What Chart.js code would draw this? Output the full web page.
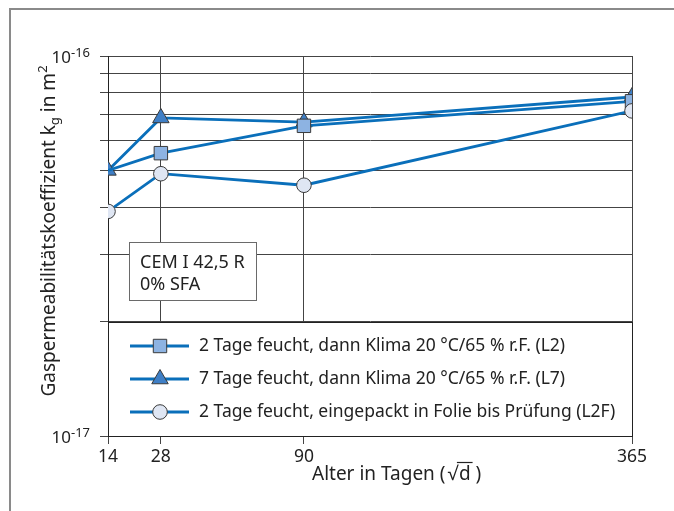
<!DOCTYPE html>
<html>
<head>
<meta charset="utf-8">
<script src="https://cdn.jsdelivr.net/npm/chart.js@4.4.1/dist/chart.umd.min.js"></script>
<style>
  html, body { margin: 0; padding: 0; background: #fff; }
  #wrap { width: 674px; height: 511px; }
</style>
</head>
<body>
<div id="wrap"><canvas id="chart" width="674" height="511"></canvas></div>
<script>
// Data (age in days, kg in m^2)
const days = [14, 28, 90, 365];
const seriesNames = [
  '2 Tage feucht, dann Klima 20 °C/65 % r.F. (L2)',
  '7 Tage feucht, dann Klima 20 °C/65 % r.F. (L7)',
  '2 Tage feucht, eingepackt in Folie bis Prüfung (L2F)'
];
const kgL2  = [5.0e-17, 5.55e-17, 6.55e-17, 7.6e-17];
const kgL7  = [5.0e-17, 6.87e-17, 6.7e-17, 7.8e-17];
const kgL2F = [3.9e-17, 4.9e-17, 4.57e-17, 7.17e-17];

// y grid (log scale) and labelled ticks
const yGridValues = [1e-17, 2e-17, 3e-17, 4e-17, 5e-17, 6e-17, 7e-17, 8e-17, 9e-17, 1e-16];
const yLabelValues = [1e-16, 1e-17];
const yLabelExps = ['-16', '-17'];

const infoLines = ['CEM I 42,5 R', '0% SFA'];
const yTitleParts = [['Gaspermeabilitätskoeffizient k', 0], ['g', -1], [' in m', 0], ['2', 1]];
const xTitle = 'Alter in Tagen (';

const FONT = '"Noto Sans", "Open Sans", sans-serif';
const LINE = '#0a6fba';
const EDGE = '#3a3a3a';

const xyOf = vals => days.map((d, i) => ({ x: Math.sqrt(d), y: vals[i] }));

// white boxes (legend panel, info box) drawn over the grid
const boxPlugin = {
  id: 'boxes',
  beforeDatasetsDraw(chart) {
    const { ctx, chartArea: a, scales: { y } } = chart;
    ctx.save();
    // legend panel sits between 1e-17 and 2e-17
    const top = Math.round(y.getPixelForValue(yGridValues[1])) + 0.5;
    const bot = Math.round(a.bottom) + 0.5;
    ctx.fillStyle = '#fff';
    ctx.fillRect(a.left, top, a.right - a.left, bot - top);
    ctx.strokeStyle = '#222';
    ctx.lineWidth = 1;
    ctx.strokeRect(Math.round(a.left) + 0.5, top, Math.round(a.right - a.left), bot - top);

    // info box
    ctx.fillStyle = '#fff';
    ctx.fillRect(129, 242, 128, 59);
    ctx.strokeStyle = '#6a6a6a';
    ctx.strokeRect(129.5, 242.5, 127, 58);
    ctx.fillStyle = '#222';
    ctx.font = '18px ' + FONT;
    ctx.textBaseline = 'alphabetic';
    ctx.fillText(infoLines[0], 140, 268);
    ctx.fillText(infoLines[1], 140, 290);

    // legend entries
    const rows = [346, 379, 412];
    chart.data.datasets.forEach((ds, i) => {
      const ry = rows[i];
      ctx.strokeStyle = LINE;
      ctx.lineWidth = 2.8;
      ctx.beginPath();
      ctx.moveTo(130, ry);
      ctx.lineTo(189, ry);
      ctx.stroke();
      drawMarker(ctx, ds.pointStyle, 160, ry, 9.5, ds.pointBackgroundColor);
      ctx.fillStyle = '#222';
      ctx.font = '17.5px ' + FONT;
      ctx.textBaseline = 'middle';
      ctx.fillText(ds.label, 199, ry);
    });
    ctx.restore();
  },
  afterDraw(chart) {
    const { ctx, scales: { x, y } } = chart;
    ctx.save();
    // outer frame (left + top only)
    ctx.strokeStyle = '#8a8a8a';
    ctx.lineWidth = 2;
    ctx.beginPath();
    ctx.moveTo(10, 511);
    ctx.lineTo(10, 9);
    ctx.lineTo(674, 9);
    ctx.stroke();

    ctx.fillStyle = '#222';
    ctx.textBaseline = 'alphabetic';
    // y labels 10^-16 / 10^-17
    yLabelValues.forEach((v, i) => {
      const py = y.getPixelForValue(v);
      ctx.font = '13px ' + FONT;
      const ws = ctx.measureText(yLabelExps[i]).width;
      ctx.textAlign = 'right';
      ctx.fillText(yLabelExps[i], 90, py + 1);
      ctx.font = '17px ' + FONT;
      ctx.fillText('10', 90 - ws, py + 6.5);
    });

    // y title, rotated
    ctx.translate(55, 0);
    ctx.rotate(-Math.PI / 2);
    ctx.textAlign = 'left';
    const size = s => (s === 0 ? 19 : 13);
    let total = 0;
    yTitleParts.forEach(([t, s]) => { ctx.font = size(s) + 'px ' + FONT; total += ctx.measureText(t).width; });
    let tx = -231 - total / 2;
    yTitleParts.forEach(([t, s]) => {
      ctx.font = size(s) + 'px ' + FONT;
      ctx.fillText(t, tx, s === 0 ? 0 : (s < 0 ? 4 : -8));
      tx += ctx.measureText(t).width;
    });
    ctx.setTransform(1, 0, 0, 1, 0, 0);

    // x title with root sign
    ctx.font = '19px ' + FONT;
    ctx.textAlign = 'left';
    let xx = 312;
    const by = 480;
    ctx.fillText(xTitle, xx, by);
    xx += ctx.measureText(xTitle).width + 2;
    ctx.fillText('√', xx, by);
    xx += ctx.measureText('√').width;
    const wd = ctx.measureText('d').width;
    ctx.fillText('d', xx + 1, by);
    ctx.strokeStyle = '#222';
    ctx.lineWidth = 1.2;
    ctx.beginPath();
    ctx.moveTo(xx - 1, by - 17.5);
    ctx.lineTo(xx + wd + 3, by - 17.5);
    ctx.stroke();
    ctx.fillText(' )', xx + wd + 1, by);
    ctx.restore();
  }
};

function drawMarker(ctx, style, x, y, r, fill) {
  ctx.save();
  ctx.fillStyle = fill;
  ctx.strokeStyle = EDGE;
  ctx.lineWidth = 1;
  ctx.beginPath();
  if (style === 'rect') {
    const s = Math.SQRT1_2 * r;
    ctx.rect(x - s, y - s, 2 * s, 2 * s);
  } else if (style === 'triangle') {
    ctx.moveTo(x, y - r);
    ctx.lineTo(x + r * 0.866, y + r / 2);
    ctx.lineTo(x - r * 0.866, y + r / 2);
    ctx.closePath();
  } else {
    ctx.arc(x, y, 7.3, 0, Math.PI * 2);
  }
  ctx.fill();
  ctx.stroke();
  ctx.restore();
}

const gridOpts = { color: '#444', lineWidth: 1, tickLength: 8, tickColor: '#444', drawTicks: true };

new Chart(document.getElementById('chart'), {
  type: 'line',
  data: {
    datasets: [
      {
        label: seriesNames[0], data: xyOf(kgL2), order: 2,
        borderColor: LINE, borderWidth: 2.8,
        pointStyle: 'rect', pointRadius: [0, 9.5, 9.5, 9.5],
        pointBackgroundColor: '#8db3e2', pointBorderColor: EDGE, pointBorderWidth: 1
      },
      {
        label: seriesNames[1], data: xyOf(kgL7), order: 3,
        borderColor: LINE, borderWidth: 2.8,
        pointStyle: 'triangle', pointRadius: 9.5,
        pointBackgroundColor: '#3f7fc6', pointBorderColor: EDGE, pointBorderWidth: 1
      },
      {
        label: seriesNames[2], data: xyOf(kgL2F), order: 1,
        borderColor: LINE, borderWidth: 2.8,
        pointStyle: 'circle', pointRadius: 7.3,
        pointBackgroundColor: '#dfe6f3', pointBorderColor: EDGE, pointBorderWidth: 1
      }
    ]
  },
  options: {
    responsive: false,
    animation: false,
    devicePixelRatio: 1,
    layout: { padding: { left: 100, right: 42, top: 56, bottom: 45 } },
    plugins: { legend: { display: false }, tooltip: { enabled: false } },
    elements: { line: { tension: 0 } },
    scales: {
      x: {
        type: 'linear',
        min: Math.sqrt(days[0]),
        max: Math.sqrt(days[days.length - 1]),
        afterBuildTicks: s => { s.ticks = days.map(d => ({ value: Math.sqrt(d) })); },
        afterFit: s => { s.height = 30; },
        grid: gridOpts,
        border: { color: '#222', width: 1 },
        ticks: {
          color: '#222', font: { family: FONT, size: 17.5 }, padding: 3, maxRotation: 0, autoSkip: false,
          callback: v => { const i = days.findIndex(d => Math.abs(Math.sqrt(d) - v) < 1e-6); return i >= 0 ? String(days[i]) : ''; }
        }
      },
      y: {
        type: 'logarithmic',
        min: yGridValues[0],
        max: yGridValues[yGridValues.length - 1],
        afterBuildTicks: s => { s.ticks = yGridValues.map(v => ({ value: v })); },
        afterFit: s => { s.width = 8; },
        grid: gridOpts,
        border: { color: '#222', width: 1 },
        ticks: { display: false }
      }
    }
  },
  plugins: [boxPlugin]
});
</script>
</body>
</html>
